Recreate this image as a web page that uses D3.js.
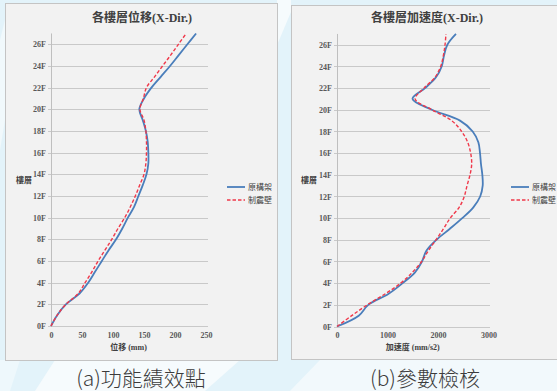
<!DOCTYPE html>
<html>
<head>
<meta charset="utf-8">
<script src="https://cdn.jsdelivr.net/npm/d3@7/dist/d3.min.js"></script>
<style>
  html, body { margin: 0; padding: 0; background: #e6f5fb; }
  svg { display: block; }
</style>
</head>
<body>
<svg id="fig" width="557" height="391"></svg>
<script>
// Floors 0F .. 27F (roof)
const floors = d3.range(0, 28);

// Storey displacement (mm), X direction
const dispFrame = [0, 10, 24, 46, 60, 71, 82, 93, 105, 115, 124, 134, 141, 148, 154, 157, 157, 156, 153, 148, 142.5, 150, 162, 177, 192, 206, 220, 234];
const dispWall  = [0, 10, 24, 44, 55, 66, 76, 87, 98, 108, 119, 128, 136, 143, 150, 153, 154, 154, 153, 150, 143.5, 149, 154, 167, 180, 193, 205.5, 218];

// Storey acceleration (mm/s2), X direction
const accFrame = [0, 430, 620, 1016, 1300, 1545, 1683, 1770, 1968, 2230, 2480, 2700, 2835, 2885, 2878, 2851, 2832, 2799, 2687, 2436, 1880, 1495, 1743, 1960, 2073, 2119, 2185, 2356];
const accWall  = [0, 291, 600, 950, 1261, 1492, 1677, 1809, 1960, 2106, 2240, 2420, 2520, 2575, 2634, 2667, 2647, 2588, 2469, 2271, 1880, 1548, 1723, 1941, 2053, 2106, 2139, 2158];

const floorTicks = d3.range(0, 27, 2);
const dispTicks = [0, 50, 100, 150, 200, 250];
const accTicks = [0, 1000, 2000, 3000];
const seriesNames = ["原構架", "制震壁"];

const svg = d3.select("#fig");
const serif = "'Liberation Serif','DejaVu Serif','Noto Sans CJK TC',serif";
const cjk = "'Noto Sans CJK TC','Noto Sans CJK SC',sans-serif";

// soft backdrop shapes
const bg = svg.append("g");
bg.append("rect").attr("width", 557).attr("height", 391).attr("fill", "#e3f3fa");
bg.append("path").attr("d", "M55,360 L240,360 L205,391 L35,391 Z").attr("fill", "#f6fbfd");
bg.append("path").attr("d", "M320,360 L557,360 L557,391 L290,391 Z").attr("fill", "#f2f9fc");
bg.append("path").attr("d", "M0,360 L20,360 L10,391 L0,391 Z").attr("fill", "#eef8fc");
bg.append("path").attr("d", "M277,0 L291,0 L291,12 L277,45 Z").attr("fill", "#f6fbfd");
bg.append("path").attr("d", "M0,40 L5,20 L5,120 L0,150 Z").attr("fill", "#f1f9fc");

function chart(opt) {
  const g = svg.append("g");
  // panel
  g.append("rect")
    .attr("x", opt.box[0] + 0.5).attr("y", opt.box[1] + 0.5)
    .attr("width", opt.box[2]).attr("height", opt.box[3])
    .attr("fill", "#f2f2f2").attr("stroke", "#c4c4c4").attr("stroke-width", 1);

  const x = d3.scaleLinear().domain(opt.xDomain).range(opt.xRange);
  const y = d3.scaleLinear().domain([0, 27]).range([opt.y0, opt.y0 - 27 * 10.835]);

  // horizontal gridlines
  g.append("g").selectAll("line").data(floorTicks).join("line")
    .attr("x1", opt.xRange[0] - 3).attr("x2", opt.gridEnd)
    .attr("y1", d => Math.round(y(d)) + 0.5).attr("y2", d => Math.round(y(d)) + 0.5)
    .attr("stroke", "#c9c9c9").attr("stroke-width", 1.2);

  // vertical axis line
  g.append("line")
    .attr("x1", opt.xRange[0] + 0.5).attr("x2", opt.xRange[0] + 0.5)
    .attr("y1", y(27)).attr("y2", y(0))
    .attr("stroke", "#bfbfbf").attr("stroke-width", 1);

  // y tick labels
  const yAxis = d3.axisLeft(y).tickValues(floorTicks).tickFormat(d => d + "F").tickSize(0).tickPadding(5);
  const ya = g.append("g").attr("transform", `translate(${opt.xRange[0]},0)`).call(yAxis);
  ya.select(".domain").remove();
  ya.selectAll("text").attr("font-family", serif).attr("font-size", 8).attr("font-weight", "bold").attr("fill", "#595959");

  // x tick labels
  const xAxis = d3.axisBottom(x).tickValues(opt.xTicks).tickFormat(d3.format("d")).tickSize(0).tickPadding(6);
  const xa = g.append("g").attr("transform", `translate(0,${opt.y0})`).call(xAxis);
  xa.select(".domain").remove();
  xa.selectAll("text").attr("font-family", serif).attr("font-size", 8).attr("font-weight", "bold").attr("fill", "#595959");

  // smoothed storey profiles
  const line = vals => d3.line()
    .x((d, i) => x(vals[i])).y((d, i) => y(floors[i]))
    .curve(d3.curveCatmullRom.alpha(0.5))(vals);

  g.append("path").attr("d", line(opt.a)).attr("fill", "none")
    .attr("stroke", "#4a7ebb").attr("stroke-width", 1.8);
  g.append("path").attr("d", line(opt.b)).attr("fill", "none")
    .attr("stroke", "#f0384a").attr("stroke-width", 1.4).attr("stroke-dasharray", "3.5,2");

  // titles
  g.append("text").attr("x", opt.titleX).attr("y", 22).attr("text-anchor", "middle")
    .attr("font-family", serif).attr("font-size", 12).attr("font-weight", "bold").attr("fill", "#404040")
    .text(opt.title);
  g.append("text").attr("x", opt.yTitleX).attr("y", 183).attr("text-anchor", "middle")
    .attr("font-family", cjk).attr("font-size", 8).attr("font-weight", "bold").attr("fill", "#404040")
    .text("樓層");
  g.append("text").attr("x", (opt.xRange[0] + opt.xRange[1]) / 2).attr("y", 350).attr("text-anchor", "middle")
    .attr("font-family", serif).attr("font-size", 8).attr("font-weight", "bold").attr("fill", "#404040")
    .text(opt.xTitle);

  // legend
  const lg = g.append("g").attr("transform", `translate(${opt.legendX},187)`);
  lg.append("line").attr("x1", 0).attr("x2", 18).attr("y1", 0).attr("y2", 0)
    .attr("stroke", "#4a7ebb").attr("stroke-width", 1.8);
  lg.append("line").attr("x1", 0).attr("x2", 18).attr("y1", 13).attr("y2", 13)
    .attr("stroke", "#f0384a").attr("stroke-width", 1.4).attr("stroke-dasharray", "3.5,2");
  lg.selectAll("text").data(seriesNames).join("text")
    .attr("x", 21).attr("y", (d, i) => i * 13 + 3)
    .attr("font-family", cjk).attr("font-size", 8).attr("fill", "#404040")
    .text(d => d);

  // caption
  svg.append("text").attr("x", opt.captionX).attr("y", 386).attr("text-anchor", "middle")
    .attr("font-family", cjk).attr("font-size", 21).attr("font-weight", 300).attr("fill", "#3c3c3c")
    .text(opt.caption);
}

chart({
  box: [5, 3, 272, 357], xDomain: [0, 250], xRange: [51, 206], gridEnd: 208, y0: 326,
  xTicks: dispTicks, a: dispFrame, b: dispWall,
  title: "各樓層位移(X-Dir.)", titleX: 142, yTitleX: 24, xTitle: "位移 (mm)",
  legendX: 227, caption: "(a)功能績效點", captionX: 141
});

chart({
  box: [291, 5, 270, 354], xDomain: [0, 3000], xRange: [337, 488.5], gridEnd: 490, y0: 326.5,
  xTicks: accTicks, a: accFrame, b: accWall,
  title: "各樓層加速度(X-Dir.)", titleX: 427, yTitleX: 309, xTitle: "加速度 (mm/s2)",
  legendX: 511, caption: "(b)參數檢核", captionX: 425
});
</script>
</body>
</html>
